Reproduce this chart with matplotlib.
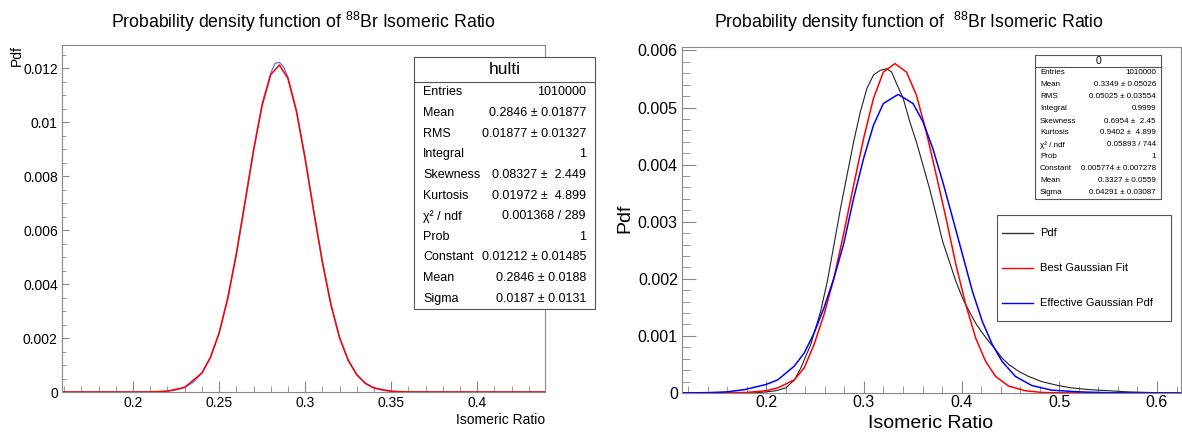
import matplotlib
matplotlib.use("Agg")
import matplotlib.pyplot as plt
import matplotlib as mpl
from matplotlib.patches import Rectangle
from matplotlib.lines import Line2D
from matplotlib.ticker import MultipleLocator, FuncFormatter

W, H = 1182, 434

# ---- left panel: histogram "hulti" and its gaussian fit
hulti_x = [0.159, 0.195, 0.200, 0.205, 0.210, 0.215, 0.220, 0.225, 0.230, 0.235, 0.240,
           0.245, 0.250, 0.255, 0.260, 0.265, 0.270, 0.275, 0.280, 0.2825, 0.285,
           0.2875, 0.290, 0.295, 0.300, 0.305, 0.310, 0.315, 0.320, 0.325, 0.330,
           0.335, 0.340, 0.345, 0.350, 0.355, 0.360, 0.365, 0.370, 0.439]
hulti_y = [0.0, 0.0, 0.0000005, 0.000002, 0.000005, 0.000013, 0.000032, 0.000078, 0.00017,
           0.00036, 0.00071, 0.00130, 0.00220, 0.00348, 0.00512, 0.00703, 0.00897,
           0.01068, 0.01182, 0.01218, 0.01222, 0.01205, 0.01166, 0.01043, 0.00868,
           0.00671, 0.00484, 0.00325, 0.00203, 0.00118, 0.00064, 0.00032, 0.00015,
           0.000066, 0.000027, 0.000010, 0.000004, 0.000001, 0.0, 0.0]

fit1_x = [0.159, 0.19, 0.20, 0.21, 0.22, 0.23, 0.24, 0.245, 0.25, 0.255, 0.26, 0.265,
          0.27, 0.275, 0.28, 0.285, 0.29, 0.295, 0.30, 0.305, 0.31, 0.315, 0.32,
          0.325, 0.33, 0.335, 0.34, 0.35, 0.36, 0.37, 0.38, 0.439]
fit1_y = [0.0, 0.0, 0.0000004, 0.000004, 0.00003, 0.00017, 0.00070, 0.00128, 0.00218,
          0.00346, 0.00510, 0.00700, 0.00894, 0.01062, 0.01176, 0.01212, 0.01162,
          0.01038, 0.00864, 0.00669, 0.00482, 0.00323, 0.00201, 0.00118, 0.00064,
          0.00032, 0.00015, 0.000027, 0.0000036, 0.0000003, 0.0, 0.0]

# ---- right panel: pdf histogram, best gaussian fit, effective gaussian pdf
pdf_x = [0.114, 0.18, 0.19, 0.20, 0.21, 0.22, 0.229, 0.2355, 0.2456, 0.2557, 0.2625,
         0.2693, 0.276, 0.2828, 0.2895, 0.2963, 0.303, 0.3098, 0.3166, 0.3233, 0.3284,
         0.3334, 0.3402, 0.347, 0.3537, 0.3605, 0.3672, 0.374, 0.3807, 0.3875, 0.3943,
         0.401, 0.4078, 0.4145, 0.4213, 0.428, 0.4348, 0.4416, 0.4483, 0.4584, 0.4686,
         0.482, 0.499, 0.5125, 0.53, 0.55, 0.57, 0.59, 0.60, 0.61, 0.625]
pdf_y = [0.0, 0.0, 0.000005, 0.00002, 0.00004, 0.00009, 0.00023, 0.00044, 0.00085,
         0.00143, 0.00195, 0.00259, 0.00323, 0.00382, 0.00440, 0.00492, 0.00533,
         0.00557, 0.00565, 0.00568, 0.00562, 0.00542, 0.00516, 0.00475, 0.00440,
         0.00399, 0.00358, 0.00312, 0.00265, 0.00230, 0.00195, 0.00166, 0.00143,
         0.00122, 0.00105, 0.00090, 0.00076, 0.00061, 0.00050, 0.00038, 0.00029,
         0.00020, 0.00013, 0.00009, 0.00006, 0.00004, 0.00002, 0.00001, 0.000005,
         0.0, 0.0]

best_x = [0.114, 0.16, 0.18, 0.20, 0.2118, 0.2287, 0.2389, 0.249, 0.2591, 0.2693,
          0.2794, 0.2895, 0.2997, 0.3098, 0.3199, 0.3318, 0.3436, 0.3537, 0.3639,
          0.374, 0.3841, 0.3943, 0.4044, 0.4145, 0.4247, 0.4348, 0.4483, 0.4652,
          0.482, 0.50, 0.625]
best_y = [0.0, 0.000002, 0.00001, 0.00004, 0.00009, 0.00023, 0.00044, 0.00085,
          0.00137, 0.00201, 0.00280, 0.00364, 0.00446, 0.00516, 0.00562, 0.00577,
          0.00562, 0.00522, 0.00457, 0.00382, 0.00306, 0.00224, 0.00154, 0.00096,
          0.00055, 0.00029, 0.00012, 0.00004, 0.00001, 0.000003, 0.0]

eff_x = [0.114, 0.14, 0.16, 0.178, 0.20, 0.2118, 0.2287, 0.2389, 0.249, 0.2591,
         0.2693, 0.2794, 0.2895, 0.2997, 0.3098, 0.3199, 0.3351, 0.3503, 0.3605,
         0.3706, 0.3807, 0.3909, 0.401, 0.4111, 0.4213, 0.4314, 0.4416, 0.4551,
         0.472, 0.4922, 0.52, 0.55, 0.58, 0.625]
eff_y = [0.000001, 0.000006, 0.00002, 0.00006, 0.00015, 0.00023, 0.00047, 0.00070,
         0.00105, 0.00149, 0.00201, 0.00262, 0.00341, 0.00411, 0.00469, 0.00507,
         0.00523, 0.00507, 0.00475, 0.00428, 0.00370, 0.00306, 0.00242, 0.00178,
         0.00125, 0.00085, 0.00055, 0.00029, 0.00013, 0.00005, 0.00002, 0.000005,
         0.000001, 0.0]

stats_left = [("Entries", "1010000"), ("Mean", "0.2846 ± 0.01877"),
              ("RMS", "0.01877 ± 0.01327"), ("Integral", "1"),
              ("Skewness", "0.08327 ±  2.449"), ("Kurtosis", "0.01972 ±  4.899"),
              ("χ² / ndf", "0.001368 / 289"), ("Prob", "1"),
              ("Constant", "0.01212 ± 0.01485"), ("Mean", "0.2846 ± 0.0188"),
              ("Sigma", "0.0187 ± 0.0131")]
stats_right = [("Entries", "1010000"), ("Mean", "0.3349 ± 0.05026"),
               ("RMS", "0.05025 ± 0.03554"), ("Integral", "0.9999"),
               ("Skewness", "0.6954 ±  2.45"), ("Kurtosis", "0.9402 ±  4.899"),
               ("χ² / ndf", "0.05893 / 744"), ("Prob", "1"),
               ("Constant", "0.005774 ± 0.007278"), ("Mean", "0.3327 ± 0.0559"),
               ("Sigma", "0.04291 ± 0.03087")]
legend_labels = ["Pdf", "Best Gaussian Fit", "Effective Gaussian Pdf"]
legend_colors = ["#333333", "#ff0000", "#0000ff"]

FRAME = "#888888"


def set_style():
    plt.rcParams['font.family'] = ['Liberation Sans', 'DejaVu Sans']
    mpl.rcParams['mathtext.fontset'] = 'custom'
    mpl.rcParams['mathtext.rm'] = 'Liberation Sans'
    mpl.rcParams['mathtext.it'] = 'Liberation Sans:italic'
    mpl.rcParams['xtick.direction'] = 'in'
    mpl.rcParams['ytick.direction'] = 'in'
    mpl.rcParams['axes.edgecolor'] = FRAME
    mpl.rcParams['axes.linewidth'] = 0.8


def fx(px):
    return px / W


def fy(py):
    return 1 - py / H


def style_axes(ax, xmaj, xmin, ymaj, ymin, lab, xlen, ylen, xpad):
    ax.xaxis.set_major_locator(MultipleLocator(xmaj))
    ax.xaxis.set_minor_locator(MultipleLocator(xmin))
    ax.yaxis.set_major_locator(MultipleLocator(ymaj))
    ax.yaxis.set_minor_locator(MultipleLocator(ymin))
    fmt = FuncFormatter(lambda v, p: "%g" % round(v, 6))
    ax.xaxis.set_major_formatter(fmt)
    ax.yaxis.set_major_formatter(fmt)
    ax.tick_params(axis='x', which='major', length=xlen * 0.72, color=FRAME,
                   labelsize=lab, pad=xpad)
    ax.tick_params(axis='x', which='minor', length=xlen * 0.4, color=FRAME)
    ax.tick_params(axis='y', which='major', length=ylen * 0.72, color=FRAME,
                   labelsize=lab, pad=3)
    ax.tick_params(axis='y', which='minor', length=ylen * 0.4, color=FRAME)


def draw_stats(fig, box, title, rows, fs, tfs, sep, margin):
    x0, y0, x1, y1 = box
    fig.add_artist(Rectangle((fx(x0), fy(y1)), fx(x1 - x0), (y1 - y0) / H,
                             transform=fig.transFigure, facecolor='white',
                             edgecolor='#555555', lw=0.8, zorder=5))
    fig.add_artist(Line2D([fx(x0), fx(x1)], [fy(sep), fy(sep)],
                          transform=fig.transFigure, color='#555555', lw=0.8,
                          zorder=6))
    fig.text(fx((x0 + x1) / 2), fy((y0 + sep) / 2), title, ha='center',
             va='center', fontsize=tfs, zorder=7)
    step = (y1 - sep) / len(rows)
    for i, (name, val) in enumerate(rows):
        yy = fy(sep + step * (i + 0.5))
        fig.text(fx(x0 + margin), yy, name, ha='left', va='center',
                 fontsize=fs, zorder=7)
        fig.text(fx(x1 - margin), yy, val, ha='right', va='center',
                 fontsize=fs, zorder=7)


set_style()
fig = plt.figure(figsize=(W / 100, H / 100), dpi=100)

# left panel
ax1 = fig.add_axes([fx(62), fy(392), fx(545 - 62), (392 - 45) / H])
ax1.plot(hulti_x, hulti_y, color='#3d4fe0', lw=1.0, alpha=0.75)
ax1.plot(fit1_x, fit1_y, color='#ff0000', lw=1.1)
ax1.set_xlim(0.1587, 0.4394)
ax1.set_ylim(0, 0.01286)
style_axes(ax1, 0.05, 0.01, 0.002, 0.0005, 10, 11, 7, 3)
fig.text(fx(304), fy(22), r"Probability density function of $^{88}$Br Isomeric Ratio",
         ha='center', va='center', fontsize=12.7)
fig.text(fx(17), fy(45), "Pdf", rotation=90, ha='center', va='top', fontsize=10)
fig.text(fx(545), fy(420), "Isomeric Ratio", ha='right', va='center', fontsize=10)
draw_stats(fig, (414, 57, 595, 309), "hulti", stats_left, 9, 12.5, 82, 9)

# right panel
ax2 = fig.add_axes([fx(682), fy(393), fx(1181 - 682), (393 - 47) / H])
ax2.plot(pdf_x, pdf_y, color='#222222', lw=0.8)
ax2.plot(best_x, best_y, color='#ff0000', lw=1.1)
ax2.plot(eff_x, eff_y, color='#0000ff', lw=1.1)
ax2.set_xlim(0.1138, 0.6246)
ax2.set_ylim(0, 0.00606)
style_axes(ax2, 0.1, 0.02, 0.001, 0.0002, 11.5, 12, 14, 1.5)
fig.text(fx(714), fy(22), r"Probability density function of  $^{88}$Br Isomeric Ratio",
         ha='left', va='center', fontsize=12.7)
fig.text(fx(625), fy(218), "Pdf", rotation=90, ha='center', va='center', fontsize=14)
fig.text(fx(931), fy(423), "Isomeric Ratio", ha='center', va='center', fontsize=14)
draw_stats(fig, (1035, 55, 1161, 199), "0", stats_right, 5.8, 7.5, 67, 5)

# legend box
fig.add_artist(Rectangle((fx(997), fy(321)), fx(1171 - 997), (321 - 215) / H,
                         transform=fig.transFigure, facecolor='white',
                         edgecolor='#555555', lw=0.8, zorder=5))
for i, (lab, col) in enumerate(zip(legend_labels, legend_colors)):
    yy = fy(233 + 35 * i)
    fig.add_artist(Line2D([fx(1002), fx(1033)], [yy, yy], transform=fig.transFigure,
                          color=col, lw=1.0, zorder=6))
    fig.text(fx(1040), yy, lab, ha='left', va='center', fontsize=8, zorder=7)

fig.savefig("out.png", dpi=100)
